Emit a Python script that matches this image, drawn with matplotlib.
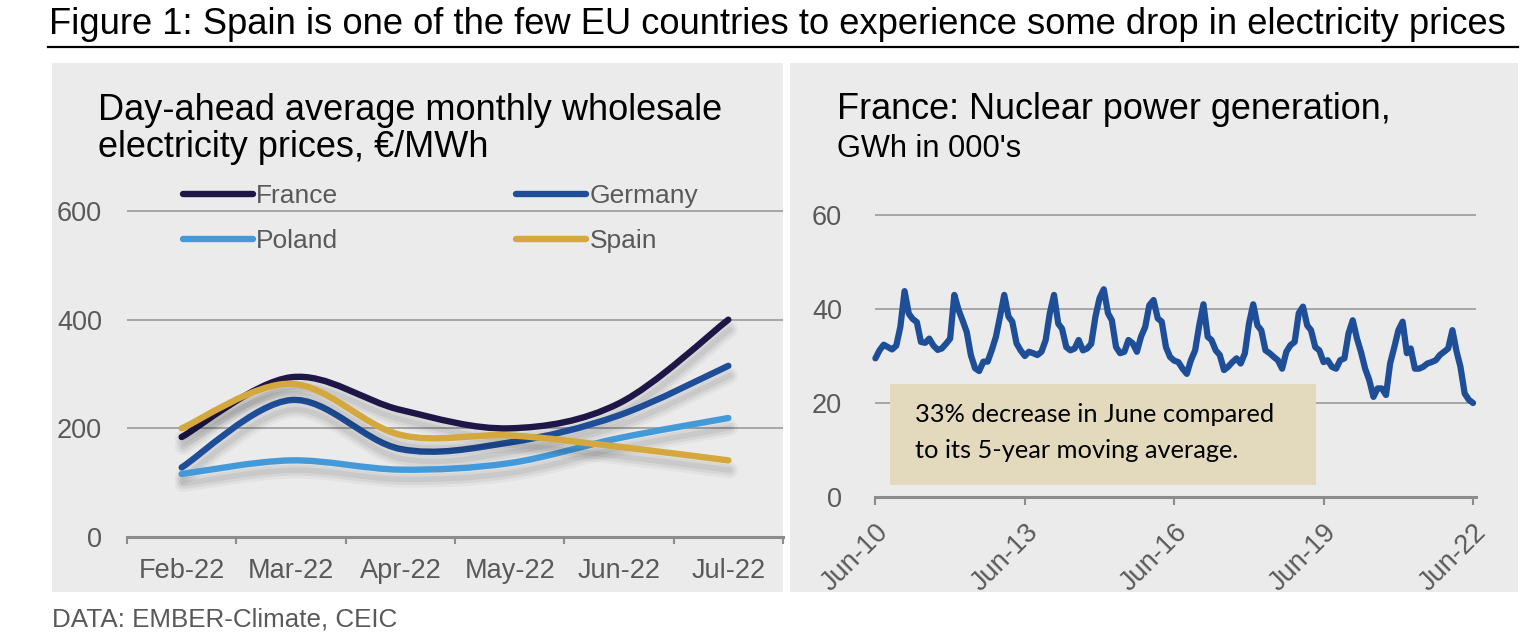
import numpy as np
import matplotlib
matplotlib.use('Agg')
import matplotlib.pyplot as plt
from matplotlib.path import Path
from matplotlib.patches import PathPatch, Rectangle
from matplotlib.lines import Line2D
import matplotlib.patheffects as pe
import matplotlib.dates as mdates
import pandas as pd

# ---------------- data ----------------
months = ['Feb-22', 'Mar-22', 'Apr-22', 'May-22', 'Jun-22', 'Jul-22']
france = [184, 294, 234, 200, 246, 400]
germany = [128, 252, 162, 174, 224, 315]
poland = [116, 141, 124, 136, 182, 219]
spain = [200, 282, 188, 187, 166, 141]
price_ticks = [0, 200, 400, 600]

nuclear_start = '2010-06-01'
nuclear = [29.5, 31.2, 32.4, 31.9, 31.4, 32.2, 36.2, 43.8, 39.0, 37.9, 37.2, 33.0,
           32.8, 33.7, 32.2, 31.3, 31.6, 32.6, 33.7, 43.0, 39.8, 37.6, 35.1, 30.2,
           27.4, 26.8, 28.8, 28.8, 31.2, 34.1, 38.4, 43.0, 38.4, 37.3, 32.7, 31.2,
           30.0, 30.9, 30.6, 30.2, 30.9, 33.4, 39.1, 43.0, 36.9, 35.8, 31.9, 31.2,
           31.6, 33.4, 31.2, 31.6, 32.6, 38.4, 42.3, 44.2, 39.1, 37.6, 31.9, 30.6,
           30.9, 33.4, 32.7, 30.9, 34.1, 36.2, 40.8, 41.9, 38.0, 37.3, 31.9, 29.8,
           29.0, 28.7, 27.3, 26.2, 29.1, 31.2, 36.5, 41.0, 34.1, 33.4, 31.2, 30.2,
           27.0, 27.7, 28.7, 29.5, 28.4, 30.6, 36.9, 41.0, 36.5, 35.5, 31.2, 30.6,
           29.8, 29.1, 27.3, 30.9, 32.3, 33.0, 39.1, 40.5, 36.5, 35.5, 31.9, 31.2,
           28.7, 29.1, 27.7, 27.3, 29.1, 29.5, 34.8, 37.6, 33.7, 30.9, 27.3, 24.9,
           21.3, 23.1, 23.1, 21.7, 28.4, 31.9, 35.5, 37.3, 30.6, 31.6, 27.3, 27.3,
           27.7, 28.4, 28.7, 29.1, 30.2, 30.9, 31.6, 35.5, 30.9, 27.7, 22.0, 20.7,
           20.0]
nuclear_ticks = ['Jun-10', 'Jun-13', 'Jun-16', 'Jun-19', 'Jun-22']
nuclear_yticks = [0, 20, 40, 60]

# ---------------- figure ----------------
W, H = 1536, 640
fig = plt.figure(figsize=(W / 100, H / 100), dpi=100)
fig.patch.set_facecolor('white')


def fx(px):
    return px / W


def fy(py):
    return 1 - py / H


PANEL = '#ebebeb'
GRID = '#a6a6a6'
AXIS = '#8c8c8c'
TXT = '#595959'
TICK_FS = 19.5
font = 'Liberation Sans'
plt.rcParams['font.family'] = [font, 'DejaVu Sans']

# panels
for x0, x1 in [(52, 783), (790, 1518)]:
    fig.patches.append(Rectangle((fx(x0), fy(592)), fx(x1) - fx(x0), fy(63) - fy(592),
                                 transform=fig.transFigure, facecolor=PANEL,
                                 edgecolor='none', zorder=-5))

renderer = fig.canvas.get_renderer()


def fit(t, target):
    w = t.get_window_extent(renderer).width
    t.set_fontsize(t.get_fontsize() * target / w)
    return t.get_fontsize()


# title + underline
t = fig.text(fx(49), fy(34), 'Figure 1: Spain is one of the few EU countries to experience some drop in electricity prices',
             fontsize=20, color='black', va='baseline', ha='left')
fit(t, 1455)
fig.add_artist(Line2D([fx(48), fx(1518)], [fy(46.5), fy(46.5)], transform=fig.transFigure,
                      color='black', lw=1.6))

# ---------------- left chart ----------------
ylo, yhi = 0, 620
ax_top = 537 - (537 - 211) * yhi / 600
ax1 = fig.add_axes([fx(127), fy(537), fx(783) - fx(127), fy(ax_top) - fy(537)])
ax1.set_facecolor('none')
ax1.set_xlim(-0.5, 5.5)
ax1.set_ylim(ylo, yhi)
for s in ['left', 'right', 'top']:
    ax1.spines[s].set_visible(False)
ax1.spines['bottom'].set_color(AXIS)
ax1.spines['bottom'].set_linewidth(2.2)
ax1.set_yticks(price_ticks)
ax1.set_yticklabels([str(v) for v in price_ticks])
ax1.yaxis.grid(True, color=GRID, lw=1.4)
ax1.set_axisbelow(True)
ax1.tick_params(axis='y', length=0, pad=18, labelsize=TICK_FS, labelcolor=TXT)
ax1.set_xticks(np.arange(-0.5, 6, 1))
ax1.set_xticklabels([''] * 7)
ax1.tick_params(axis='x', which='major', length=5, width=1.5, color=AXIS, direction='out')
ax1.set_xticks(range(len(months)), minor=True)
ax1.set_xticklabels(months, minor=True)
ax1.tick_params(axis='x', which='minor', length=0, pad=15, labelsize=TICK_FS, labelcolor=TXT)


def smooth_path(xs, ys):
    pts = np.column_stack([xs, ys]).astype(float)
    n = len(pts)
    verts = [pts[0]]
    codes = [Path.MOVETO]
    for i in range(n - 1):
        p0 = pts[i - 1] if i > 0 else pts[i]
        p1 = pts[i]
        p2 = pts[i + 1]
        p3 = pts[i + 2] if i + 2 < n else pts[i + 1]
        c1 = p1 + (p2 - p0) / 6.0
        c2 = p2 - (p3 - p1) / 6.0
        verts += [c1, c2, p2]
        codes += [Path.CURVE4] * 3
    return Path(verts, codes)


series = [('France', france, '#1e1646'), ('Germany', germany, '#1f4e99'),
          ('Poland', poland, '#449ad9'), ('Spain', spain, '#d4a83c')]
xs = np.arange(len(months))
shadow = [pe.SimpleLineShadow(offset=(1, -7), shadow_color='black', alpha=0.035, linewidth=12),
          pe.SimpleLineShadow(offset=(1, -7), shadow_color='black', alpha=0.05, linewidth=8),
          pe.SimpleLineShadow(offset=(1, -7), shadow_color='black', alpha=0.06, linewidth=4),
          pe.Normal()]
for k, (name, vals, col) in enumerate(series):
    patch = PathPatch(smooth_path(xs, vals), facecolor='none', edgecolor=col, lw=4.6,
                      capstyle='round', joinstyle='round', zorder=3 + k)
    patch.set_path_effects(shadow)
    ax1.add_patch(patch)

# legend rows: France, Germany / Poland, Spain (matplotlib fills by column)
order = [0, 2, 1, 3]
handles = [Line2D([], [], color=series[i][2], lw=4.6, solid_capstyle='round') for i in order]
labels = [series[i][0] for i in order]
leg = ax1.legend(handles, labels, ncol=2, loc='upper left',
                 bbox_to_anchor=(fx(183), fy(184)), bbox_transform=fig.transFigure,
                 frameon=False, fontsize=19, handlelength=2.65, handletextpad=0.12,
                 columnspacing=6.75, labelspacing=0.8, borderpad=0, borderaxespad=0)
for txt in leg.get_texts():
    txt.set_color(TXT)

s1 = fig.text(fx(98), fy(120), 'Day-ahead average monthly wholesale', fontsize=23,
              color='black', va='baseline', ha='left')
fs = fit(s1, 626)
fig.text(fx(98), fy(157), 'electricity prices, €/MWh', fontsize=fs, color='black',
         va='baseline', ha='left')

# ---------------- right chart ----------------
dates = pd.date_range(nuclear_start, periods=len(nuclear), freq='MS')
d0 = mdates.date2num(dates[0])
d1 = mdates.date2num(dates[-1])
px_left, px_right = 875.4, 1473.0
scale = (px_right - px_left) / (d1 - d0)
ax_r = 1476.0
y2hi = 62
ax2_top = 497 - (497 - 215) * y2hi / 60
ax2 = fig.add_axes([fx(px_left), fy(497), fx(ax_r) - fx(px_left), fy(ax2_top) - fy(497)])
ax2.set_facecolor('none')
ax2.set_xlim(d0, d1 + (ax_r - px_right) / scale)
ax2.set_ylim(0, y2hi)
for s in ['left', 'right', 'top']:
    ax2.spines[s].set_visible(False)
ax2.spines['bottom'].set_color(AXIS)
ax2.spines['bottom'].set_linewidth(2.2)
ax2.set_yticks(nuclear_yticks)
ax2.set_yticklabels([str(v) for v in nuclear_yticks])
ax2.yaxis.grid(True, color=GRID, lw=1.4)
ax2.set_axisbelow(True)
ax2.tick_params(axis='y', length=0, pad=24, labelsize=TICK_FS, labelcolor=TXT)
tick_dates = [pd.Timestamp(year=2010 + 3 * i, month=6, day=1) for i in range(len(nuclear_ticks))]
ax2.set_xticks([mdates.date2num(d) for d in tick_dates])
ax2.set_xticklabels(nuclear_ticks, rotation=45, ha='right', va='top', rotation_mode='anchor')
ax2.tick_params(axis='x', length=6, width=1.5, color=AXIS, pad=10, labelsize=TICK_FS, labelcolor=TXT)
ax2.plot(dates, nuclear, color='#1f4e99', lw=4.5, solid_joinstyle='round',
         solid_capstyle='round', clip_on=False, zorder=3)

fig.patches.append(Rectangle((fx(890), fy(485)), fx(1316) - fx(890), fy(384) - fy(485),
                             transform=fig.transFigure, facecolor='#e3d9bd',
                             edgecolor='none', zorder=1))
a1 = fig.text(fx(915), fy(422), '33% decrease in June compared', fontsize=15,
              family=['Lato', 'DejaVu Sans'], color='black', va='baseline', ha='left', zorder=5)
fa = fit(a1, 360)
fig.text(fx(915), fy(458), 'to its 5-year moving average.', fontsize=fa,
         family=['Lato', 'DejaVu Sans'], color='black', va='baseline', ha='left', zorder=5)

r1 = fig.text(fx(837), fy(119), 'France: Nuclear power generation,', fontsize=23,
              color='black', va='baseline', ha='left')
fit(r1, 555)
r2 = fig.text(fx(837), fy(157), "GWh in 000's", fontsize=17, color='black',
              va='baseline', ha='left')
fit(r2, 184)

src = fig.text(fx(52), fy(627), 'DATA: EMBER-Climate, CEIC', fontsize=14, color=TXT,
               va='baseline', ha='left')
fit(src, 346)

fig.savefig('out.png', dpi=100)
